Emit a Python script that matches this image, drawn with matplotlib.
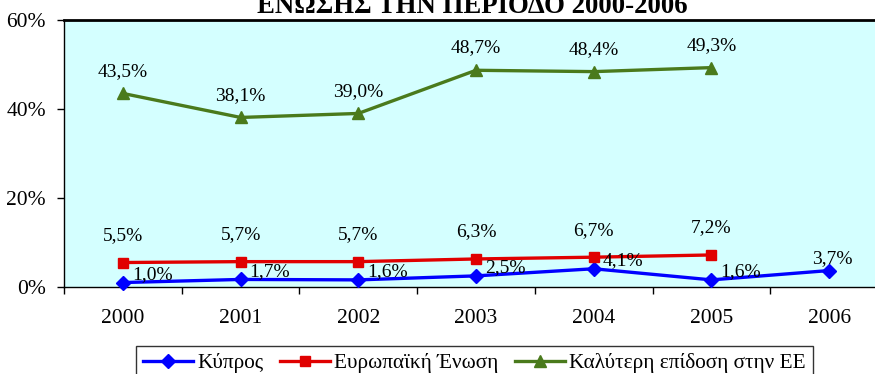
import matplotlib
matplotlib.use("Agg")
import matplotlib.pyplot as plt
from matplotlib.ticker import FuncFormatter, MultipleLocator, FixedLocator

plt.rcParams['font.family'] = ['Liberation Serif', 'DejaVu Serif']

years = ['2000', '2001', '2002', '2003', '2004', '2005', '2006']
cyprus = [1.0, 1.7, 1.6, 2.5, 4.1, 1.6, 3.7]
eu = [5.5, 5.7, 5.7, 6.3, 6.7, 7.2]
best = [43.5, 38.1, 39.0, 48.7, 48.4, 49.3]

series_names = ['Κύπρος', 'Ευρωπαϊκή Ένωση', 'Καλύτερη επίδοση στην ΕΕ']
title = 'ΕΝΩΣΗΣ ΤΗΝ ΠΕΡΙΟΔΟ 2000-2006'

def pct(v):
    return f"{v:.1f}".replace('.', ',') + '%'

fig = plt.figure(figsize=(8.75, 3.74), dpi=100)
ax = fig.add_axes([64 / 875, 1 - 287 / 374, 824 / 875, 267 / 374])
ax.set_facecolor('#D4FFFF')

x_c = range(len(cyprus))
x_e = range(len(eu))
x_b = range(len(best))

l1, = ax.plot(x_c, cyprus, color='#0000FF', lw=2.4, marker='D', ms=7,
              label=series_names[0], clip_on=False, zorder=3)
l2, = ax.plot(x_e, eu, color='#E00000', lw=2.4, marker='s', ms=7.5,
              label=series_names[1], clip_on=False, zorder=3)
l3, = ax.plot(x_b, best, color='#4A7A1C', lw=2.4, marker='^', ms=8,
              label=series_names[2], clip_on=False, zorder=3)

lab_fs = 14
for i, v in enumerate(best):
    ax.annotate(pct(v), (i, v), xytext=(0, 16), textcoords='offset points',
                ha='center', va='center', fontsize=lab_fs)
for i, v in enumerate(eu):
    ax.annotate(pct(v), (i, v), xytext=(0, 19.5), textcoords='offset points',
                ha='center', va='center', fontsize=lab_fs)
for i, v in enumerate(cyprus):
    if i == len(cyprus) - 1:
        off, ha = (2, 8.5), 'center'
    else:
        off, ha = (6.5, 6), 'left'
    ax.annotate(pct(v), (i, v), xytext=off, textcoords='offset points',
                ha=ha, va='center', fontsize=lab_fs)

ax.set_xlim(-0.5, 6.5)
ax.set_ylim(0, 60)
ax.yaxis.set_major_locator(MultipleLocator(20))
ax.yaxis.set_major_formatter(FuncFormatter(lambda v, p: f"{v:.0f}%"))
ax.xaxis.set_major_locator(FixedLocator([i - 0.5 for i in range(len(years) + 1)]))
ax.xaxis.set_major_formatter(FuncFormatter(lambda v, p: ''))
ax.xaxis.set_minor_locator(FixedLocator(list(range(len(years)))))
ax.set_xticklabels(years, minor=True)
ax.tick_params(axis='x', which='major', direction='out', length=5, width=1, color='black')
ax.tick_params(axis='x', which='minor', length=0, pad=16, labelsize=15.5)
ax.tick_params(axis='y', direction='out', length=5, width=1, labelsize=15.5, pad=8)

for s in ['left', 'bottom']:
    ax.spines[s].set_linewidth(1.0)
ax.spines['top'].set_linewidth(2.0)
ax.spines['right'].set_visible(False)

fig.text(472 / 875, 1 - 13 / 374, title, ha='center', va='baseline',
         fontsize=19.3, fontweight='bold')

leg = fig.legend(handles=[l1, l2, l3], loc='upper left',
                 bbox_to_anchor=(136 / 875, 1 - 346 / 374), ncol=3,
                 fontsize=15.3, frameon=True, fancybox=False, edgecolor='black',
                 handlelength=2.35, handletextpad=0.19, columnspacing=0.8,
                 borderpad=0.33, borderaxespad=0)
leg.get_frame().set_linewidth(1.0)

fig.savefig('out.png', dpi=100, facecolor='white')
